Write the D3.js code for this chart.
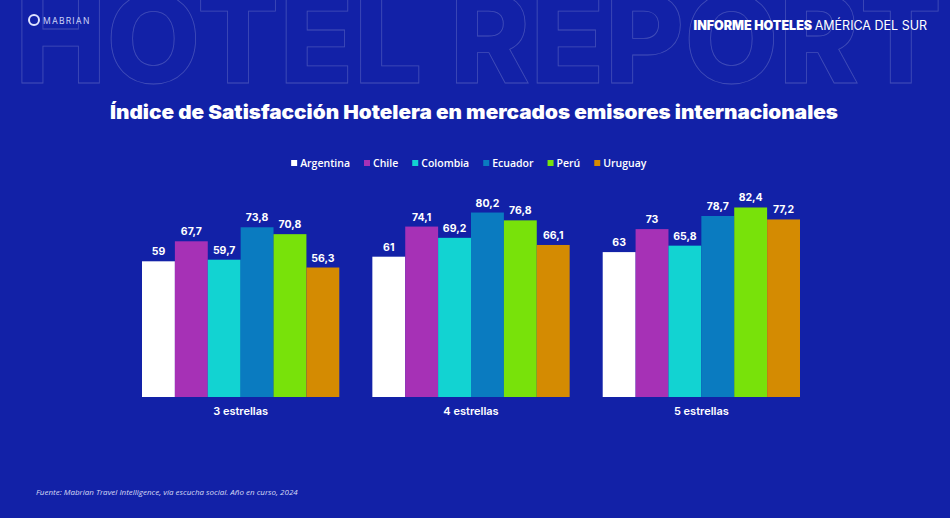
<!DOCTYPE html>
<html>
<head>
<meta charset="utf-8">
<script src="https://cdn.jsdelivr.net/npm/d3@7"></script>
<style>
  html, body { margin: 0; padding: 0; background: #1221A7; }
  svg { display: block; }
</style>
</head>
<body>
<svg id="chart" width="950" height="518"></svg>
<script>
// ---- Data ----
const groups = ["3 estrellas", "4 estrellas", "5 estrellas"];
const countries = ["Argentina", "Chile", "Colombia", "Ecuador", "Perú", "Uruguay"];
const argentina = [59, 61, 63];
const chile = [67.7, 74.1, 73];
const colombia = [59.7, 69.2, 65.8];
const ecuador = [73.8, 80.2, 78.7];
const peru = [70.8, 76.8, 82.4];
const uruguay = [56.3, 66.1, 77.2];
const seriesValues = [argentina, chile, colombia, ecuador, peru, uruguay];
const colors = ["#FFFFFF", "#A631B6", "#12D3D2", "#0A7BC0", "#78E20A", "#D48B02"];
const title = "Índice de Satisfacción Hotelera en mercados emisores internacionales";
const source = "Fuente: Mabrian Travel Intelligence, vía escucha social. Año en curso, 2024";

const fmt = v => String(v).replace(".", ",");

const svg = d3.select("#chart");
const W = 950, H = 518;

svg.append("rect").attr("width", W).attr("height", H).attr("fill", "#1221A7");

// Big outlined background word
svg.append("text")
  .attr("x", 15).attr("y", 83)
  .attr("textLength", 927).attr("lengthAdjust", "spacingAndGlyphs")
  .attr("font-family", "Inter, 'Open Sans', sans-serif")
  .attr("font-weight", 800)
  .attr("font-size", 122)
  .attr("fill", "none")
  .attr("stroke", "rgba(255,255,255,0.2)")
  .attr("stroke-width", 0.8)
  .text("HOTEL REPORT");

// Logo
const logo = svg.append("g").attr("transform", "translate(34,20)");
logo.append("circle").attr("r", 5).attr("fill", "none").attr("stroke", "#dfe3ff").attr("stroke-width", 2);
logo.append("text").attr("x", 9).attr("y", 3.5)
  .attr("font-family", "Inter, sans-serif").attr("font-size", 8.5).attr("letter-spacing", 1.2)
  .attr("fill", "#c9cff5").text("MABRIAN");

// Header right
const hdr = svg.append("text").attr("x", 927).attr("y", 30).attr("text-anchor", "end")
  .attr("font-family", "Inter, 'Open Sans', sans-serif").attr("font-size", 12.5).attr("fill", "#ffffff");
hdr.append("tspan").attr("font-weight", 900).text("INFORME HOTELES ");
hdr.append("tspan").attr("font-weight", 400).text("AMÉRICA DEL SUR");

// Title
svg.append("text").attr("x", 474).attr("y", 119).attr("text-anchor", "middle")
  .attr("font-family", "Inter, 'Open Sans', sans-serif").attr("font-weight", 900)
  .attr("font-size", 19).attr("fill", "#ffffff")
  .attr("textLength", 728).attr("lengthAdjust", "spacingAndGlyphs")
  .text(title);

// Scales
const x0 = d3.scaleBand().domain(groups).range([142, 800]).paddingInner(0.1435).paddingOuter(0);
const x1 = d3.scaleBand().domain(countries).range([0, x0.bandwidth()]).padding(0);
const y = d3.scaleLinear().domain([0, 100]).range([397, 167]);

// Legend
const legend = svg.append("g").attr("transform", "translate(297,163)");
let lx = 0;
countries.forEach((c, i) => {
  const g = legend.append("g").attr("transform", `translate(${lx},0)`);
  g.append("rect").attr("x", 0).attr("y", -3).attr("width", 6).attr("height", 6).attr("fill", colors[i]);
  const t = g.append("text").attr("x", 9).attr("y", 4)
    .attr("font-family", "'Liberation Sans Narrow', 'Open Sans', sans-serif")
    .attr("font-weight", 600).attr("font-size", 10.5).attr("fill", "#ffffff").text(c);
  const w = t.node().getComputedTextLength();
  lx += 9 + w + 14;
});
const lb = legend.node().getBBox();
legend.attr("transform", `translate(${469 - lb.width / 2},163)`);

// Bars
const gGroups = svg.append("g").selectAll("g").data(groups).join("g")
  .attr("transform", d => `translate(${x0(d)},0)`);

gGroups.each(function (gname, gi) {
  const g = d3.select(this);
  const rows = countries.map((c, ci) => ({ c, ci, v: seriesValues[ci][gi] }));
  g.selectAll("rect").data(rows).join("rect")
    .attr("x", d => x1(d.c))
    .attr("y", d => y(d.v))
    .attr("width", x1.bandwidth())
    .attr("height", d => y(0) - y(d.v))
    .attr("fill", d => colors[d.ci]);
  g.selectAll("text.val").data(rows).join("text").attr("class", "val")
    .attr("x", d => x1(d.c) + x1.bandwidth() / 2)
    .attr("y", d => y(d.v) - 6)
    .attr("text-anchor", "middle")
    .attr("font-family", "Inter, 'Open Sans', sans-serif").attr("font-weight", 700)
    .attr("font-size", 10.5).attr("fill", "#ffffff")
    .text(d => fmt(d.v));
  g.append("text")
    .attr("x", x0.bandwidth() / 2).attr("y", 415)
    .attr("text-anchor", "middle")
    .attr("font-family", "Inter, 'Open Sans', sans-serif").attr("font-weight", 600)
    .attr("font-size", 11).attr("fill", "#ffffff")
    .text(gname);
});

// Source
svg.append("text").attr("x", 36).attr("y", 495)
  .attr("font-family", "'Open Sans', sans-serif").attr("font-style", "italic")
  .attr("font-size", 8).attr("fill", "#d6daf5")
  .text(source);
</script>
</body>
</html>
